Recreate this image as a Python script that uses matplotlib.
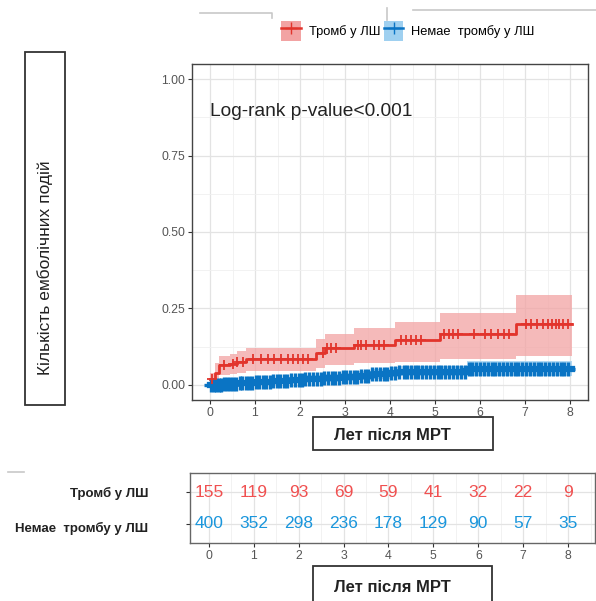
import numpy as np
import matplotlib
matplotlib.use('Agg')
import matplotlib.pyplot as plt
from matplotlib.patches import Patch, Rectangle
from matplotlib.lines import Line2D
from matplotlib.ticker import MultipleLocator, FormatStrFormatter

plt.rcParams['font.family'] = ['Liberation Sans', 'DejaVu Sans']

# cumulative incidence, group with thrombus (step starts)
red_t = [0, 0.1, 0.2, 0.45, 0.6, 0.8, 2.35, 2.55, 3.2, 4.1, 5.1, 6.8, 8.05]
red_est = [0.02, 0.04, 0.065, 0.068, 0.076, 0.085, 0.105, 0.12, 0.13, 0.145, 0.165, 0.2, 0.2]
red_hi = [0.04, 0.07, 0.095, 0.1, 0.11, 0.12, 0.15, 0.165, 0.185, 0.205, 0.235, 0.295, 0.295]
red_lo = [0.0, 0.015, 0.032, 0.035, 0.04, 0.045, 0.055, 0.065, 0.07, 0.075, 0.085, 0.095, 0.095]
red_cens = [0.05, 0.32, 0.5, 0.61, 0.73, 0.95, 1.13, 1.28, 1.43, 1.58, 1.73, 1.84, 1.95,
            2.06, 2.17, 2.5, 2.6, 2.69, 2.8, 3.28, 3.36, 3.47, 3.65, 3.76, 3.87,
            4.24, 4.36, 4.47, 4.58, 4.69, 5.2, 5.3, 5.4, 5.5, 5.87, 6.1, 6.24, 6.39,
            6.54, 6.65, 7.02, 7.13, 7.27, 7.4, 7.5, 7.6, 7.68, 7.76, 7.85, 7.95]

# group without thrombus
blue_t = [0, 0.3, 0.6, 1.0, 1.4, 1.8, 2.1, 2.5, 2.9, 3.3, 3.6, 4.0, 4.2, 5.7, 8.05]
blue_est = [0.0, 0.003, 0.006, 0.008, 0.011, 0.014, 0.018, 0.021, 0.025, 0.03, 0.035,
            0.04, 0.043, 0.05, 0.05]
blue_hi = [0.006, 0.011, 0.015, 0.018, 0.022, 0.026, 0.031, 0.035, 0.04, 0.046, 0.051,
           0.057, 0.061, 0.077, 0.077]
blue_lo = [0.0, 0.0, 0.0, 0.001, 0.003, 0.005, 0.008, 0.01, 0.013, 0.016, 0.02, 0.024,
           0.027, 0.03, 0.03]
blue_cens = [0.02, 0.08, 0.13, 0.19, 0.24, 0.31, 0.37, 0.44, 0.52, 0.58, 0.66, 0.71, 0.79,
             0.86, 0.93, 1.02, 1.08, 1.17, 1.24, 1.33, 1.41, 1.49, 1.56, 1.64, 1.72, 1.81,
             1.88, 1.97, 2.05, 2.12, 2.21, 2.29, 2.37, 2.46, 2.53, 2.62, 2.7, 2.78, 2.86,
             2.95, 3.02, 3.11, 3.19, 3.27, 3.36, 3.44, 3.52, 3.61, 3.69, 3.77, 3.86, 3.94,
             4.03, 4.12, 4.21, 4.3, 4.38, 4.47, 4.55, 4.63, 4.72, 4.8, 4.89, 4.97, 5.06,
             5.14, 5.23, 5.31, 5.4, 5.48, 5.57, 5.66, 5.75, 5.83, 5.92, 6.0, 6.09, 6.17,
             6.26, 6.34, 6.43, 6.51, 6.6, 6.68, 6.77, 6.85, 6.94, 7.02, 7.11, 7.19, 7.28,
             7.36, 7.45, 7.53, 7.62, 7.7, 7.79, 7.87, 7.96]

risk_times = [0, 1, 2, 3, 4, 5, 6, 7, 8]
risk_red = [155, 119, 93, 69, 59, 41, 32, 22, 9]
risk_blue = [400, 352, 298, 236, 178, 129, 90, 57, 35]

group_labels = ['Тромб у ЛШ', 'Немае  тромбу у ЛШ']
legend_labels = ['Тромб у ЛШ', 'Немае  тромбу у ЛШ']
y_label = 'Кількість емболічних подій'
x_label = 'Лет після МРТ'

RED = '#e2342c'
BLUE = '#0a74c4'
RED_FILL = '#f2a3a3'
BLUE_FILL = '#9fd0f0'
RED_TXT = '#f05050'
BLUE_TXT = '#1a96dc'
GRAY = '#555555'

W, H = 596, 601
fig = plt.figure(figsize=(W / 100, H / 100), dpi=100)


def fx(px):
    return px / W


def fy(py):
    return 1 - py / H


def step_at(times, vals, t):
    idx = np.searchsorted(times, t, side='right') - 1
    return np.asarray(vals)[np.clip(idx, 0, len(vals) - 1)]


# main panel
ax = fig.add_axes([fx(192), fy(400), fx(588) - fx(192), fy(64) - fy(400)])
ax.fill_between(blue_t, blue_lo, blue_hi, step='post', color=BLUE_FILL, alpha=0.8, lw=0)
ax.fill_between(red_t, red_lo, red_hi, step='post', color=RED_FILL, alpha=0.75, lw=0)
ax.step(blue_t, blue_est, where='post', color=BLUE, lw=4.5)
ax.step(red_t, red_est, where='post', color=RED, lw=2.0)
ax.plot(blue_cens, step_at(blue_t, blue_est, blue_cens), '+', color=BLUE, ms=10, mew=2.4)
ax.plot(red_cens, step_at(red_t, red_est, red_cens), '+', color=RED, ms=6.5, mew=1.3)

ax.set_xlim(-0.4, 8.4)
ax.set_ylim(-0.05, 1.05)
ax.xaxis.set_major_locator(MultipleLocator(1))
ax.xaxis.set_minor_locator(MultipleLocator(0.5))
ax.yaxis.set_major_locator(MultipleLocator(0.25))
ax.yaxis.set_minor_locator(MultipleLocator(0.125))
ax.yaxis.set_major_formatter(FormatStrFormatter('%.2f'))
ax.grid(which='major', color='#e3e3e3', lw=0.9)
ax.grid(which='minor', color='#f0f0f0', lw=0.6)
ax.set_axisbelow(True)
ax.tick_params(which='major', length=3, color='#333333', labelsize=8.8, labelcolor=GRAY, pad=2)
ax.tick_params(which='minor', length=0)
for s in ax.spines.values():
    s.set_color('#444444')
    s.set_linewidth(1.0)
ax.text(0, 0.895, 'Log-rank p-value<0.001', fontsize=13.8, color='#222222', va='center')

# risk table
rt = fig.add_axes([fx(190), fy(543), fx(595) - fx(190), fy(473) - fy(543)])
for t, n in zip(risk_times, risk_red):
    rt.text(t, 2, str(n), color=RED_TXT, fontsize=12.5, ha='center', va='center')
for t, n in zip(risk_times, risk_blue):
    rt.text(t, 1, str(n), color=BLUE_TXT, fontsize=12.5, ha='center', va='center')
rt.set_xlim(-0.42, 8.6)
rt.set_ylim(0.4, 2.6)
rt.xaxis.set_major_locator(MultipleLocator(1))
rt.xaxis.set_minor_locator(MultipleLocator(0.5))
rt.set_yticks([1, 2])
rt.set_yticklabels([])
rt.grid(which='major', color='#e3e3e3', lw=0.9)
rt.grid(which='minor', axis='x', color='#f0f0f0', lw=0.6)
rt.set_axisbelow(True)
rt.tick_params(which='major', length=3, color='#333333', labelsize=8.8, labelcolor=GRAY, pad=2)
rt.tick_params(which='minor', length=0)
for s in rt.spines.values():
    s.set_color('#666666')
    s.set_linewidth(1.0)

fig.text(fx(148), fy(493), group_labels[0], ha='right', va='center', fontsize=9.5,
         fontweight='bold', color='#222222')
fig.text(fx(148), fy(528), group_labels[1], ha='right', va='center', fontsize=9.5,
         fontweight='bold', color='#222222')

# legend
handles = [(Patch(facecolor=RED_FILL, edgecolor='none'),
            Line2D([], [], color=RED, marker='+', lw=1.8, ms=8)),
           (Patch(facecolor=BLUE_FILL, edgecolor='none'),
            Line2D([], [], color=BLUE, marker='+', lw=1.8, ms=8))]
fig.legend(handles, legend_labels, loc='center left', bbox_to_anchor=(fx(275), fy(31)),
           ncol=2, frameon=False, fontsize=9.3, handlelength=1.5, handleheight=1.9,
           handletextpad=0.6, columnspacing=0.3, borderpad=0)

# label boxes
def label_box(x0, y0, x1, y1, **kw):
    fig.patches.append(Rectangle((fx(x0), fy(y1)), fx(x1) - fx(x0), fy(y0) - fy(y1),
                                 transform=fig.transFigure, fill=False,
                                 edgecolor='#333333', lw=1.3, **kw))

label_box(25, 52, 65, 405)
fig.text(fx(45), fy(268), y_label, rotation=90, ha='center', va='center',
         fontsize=12.5, color='#222222')
label_box(313, 417, 493, 450)
fig.text(fx(392), fy(435), x_label, ha='center', va='center', fontsize=12,
         fontweight='bold', color='#222222')
label_box(313, 566, 492, 620, clip_on=False)
fig.text(fx(392), fy(588), x_label, ha='center', va='center', fontsize=12,
         fontweight='bold', color='#222222')

# stray gray lines at top
for xs, ys in [([200, 272, 272], [13, 13, 18]), ([387, 387], [8, 20]),
               ([413, 596], [10, 10]), ([8, 24], [472, 472])]:
    fig.add_artist(Line2D([fx(v) for v in xs], [fy(v) for v in ys], color='#c8c8c8', lw=1.2))

fig.savefig('out.png', dpi=100)
